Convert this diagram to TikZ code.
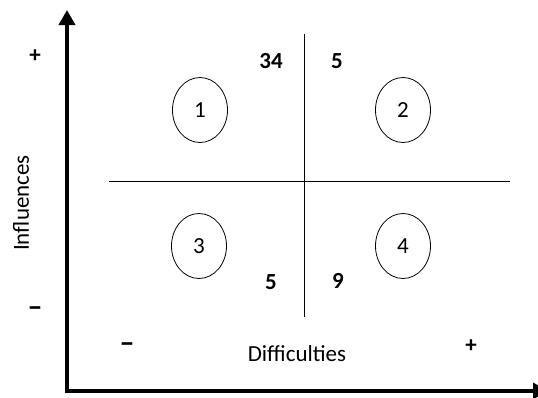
\documentclass[tikz,border=0pt]{standalone}
\usepackage{fontspec}
\setmainfont{Carlito}
\usetikzlibrary{shapes.geometric,arrows.meta}
\tikzset{
  quad/.style={ellipse,draw,line width=0.8pt,minimum width=55pt,minimum height=65pt,inner sep=0pt,font=\fontsize{23}{25}\selectfont},
  count/.style={font=\bfseries\fontsize{23}{25}\selectfont,inner sep=0pt},
  sign/.style={font=\bfseries\fontsize{23}{25}\selectfont,inner sep=0pt},
  minus/.style={font=\bfseries\fontsize{30}{32}\selectfont,inner sep=0pt,anchor=base},
  lbl/.style={font=\fontsize{23}{25}\selectfont,inner sep=0pt},
  axis/.style={line width=3.5pt,-{Triangle[width=16pt,length=15pt]}},
  divider/.style={line width=1pt}
}
\begin{document}
\begin{tikzpicture}[x=1pt,y=-1pt]
\useasboundingbox (0,0) rectangle (538,397);
\coordinate (o) at (67,391);
\coordinate (ytip) at (67,10);
\coordinate (xtip) at (548,391);
\coordinate (vt) at (304,34);
\coordinate (vb) at (304,317);
\coordinate (hl) at (109,181);
\coordinate (hr) at (510,181);
\draw[axis] ([yshift=-1.75pt]o) -- (ytip);
\draw[axis] ([xshift=-1.75pt]o) -- (xtip);
\draw[divider] (vt) -- (vb);
\draw[divider] (hl) -- (hr);
\node[quad] (q1) at (200,110) {1};
\node[quad] (q2) at (403,110) {2};
\node[quad] (q3) at (199,246) {3};
\node[quad] (q4) at (403,246) {4};
\node[count] (n34) at (271,61) {34};
\node[count] (n5a) at (337,61) {5};
\node[count] (n5b) at (271,282) {5};
\node[count] (n9) at (338,281) {9};
\node[sign] (yp) at (35,56) {+};
\node[minus] (ym) at (35,316) {–};
\node[minus] (xm) at (127,352) {–};
\node[sign] (xp) at (471,346) {+};
\node[lbl] (xl) at (297,354) {Difficulties};
\node[lbl,rotate=90] (yl) at (21,203) {Influences};
\end{tikzpicture}
\end{document}
